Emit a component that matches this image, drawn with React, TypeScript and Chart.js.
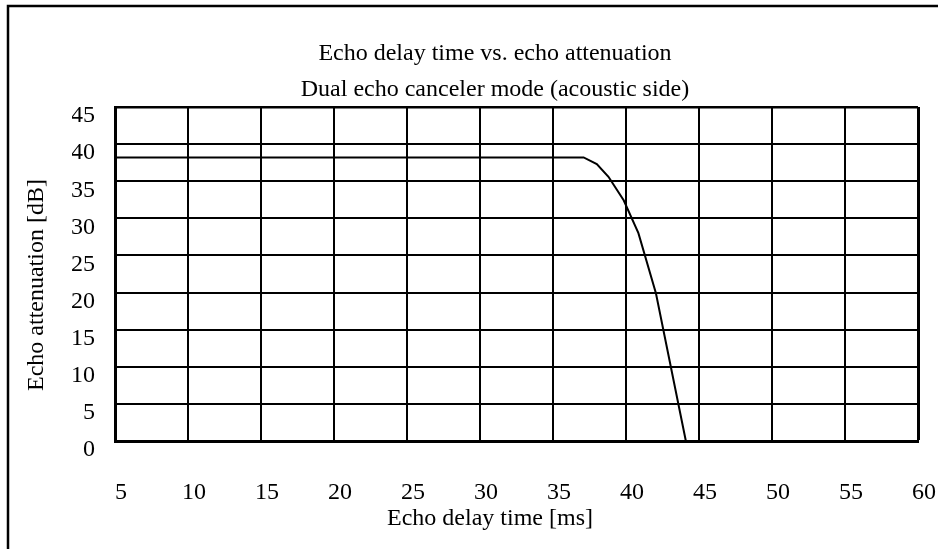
import React, { useEffect, useRef } from "react";
import { Chart, registerables } from "chart.js";

Chart.register(...registerables);

const titleText = "Echo delay time vs. echo attenuation";
const subtitleText = "Dual echo canceler mode (acoustic side)";
const xTitle = "Echo delay time [ms]";
const yTitle = "Echo attenuation [dB]";

const delayMs = [5, 37.1, 38.0, 38.8, 39.85, 40.85, 42.05, 44.1];
const attenuationDb = [38.2, 38.2, 37.3, 35.6, 32.4, 28.0, 19.9, 0];

const xMin = 5;
const xMax = 60;
const xStep = 5;
const yMin = 0;
const yMax = 45;
const yStep = 5;

const FONT = "'Liberation Serif', 'Times New Roman', serif";

const framePlugin = {
  id: "frame",
  beforeDraw(chart: any) {
    const ctx = chart.ctx;
    ctx.save();
    ctx.strokeStyle = "#000";
    ctx.lineWidth = 2.5;
    ctx.beginPath();
    ctx.moveTo(8, chart.height + 2);
    ctx.lineTo(8, 6);
    ctx.lineTo(chart.width + 2, 6);
    ctx.stroke();
    ctx.restore();
  },
};

const axisTitlePlugin = {
  id: "axisTitles",
  afterDraw(chart: any) {
    const ctx = chart.ctx;
    const area = chart.chartArea;
    ctx.save();
    ctx.fillStyle = "#000";
    ctx.font = `24px ${FONT}`;
    ctx.textAlign = "center";
    ctx.textBaseline = "middle";
    // x-axis title, under the tick labels
    ctx.fillText(xTitle, area.left + (area.right - area.left) * 0.467, 519);
    // y-axis title, rotated
    ctx.translate(37, area.top + (area.bottom - area.top) * 0.533);
    ctx.rotate(-Math.PI / 2);
    ctx.fillText(yTitle, 0, 0);
    ctx.restore();
  },
};

export default function App() {
  const ref = useRef<HTMLCanvasElement | null>(null);

  useEffect(() => {
    if (!ref.current) return;
    const chart = new Chart(ref.current, {
      type: "line",
      data: {
        datasets: [
          {
            data: delayMs.map((x, i) => ({ x, y: attenuationDb[i] })),
            borderColor: "#000",
            borderWidth: 2,
            pointRadius: 0,
            fill: false,
            tension: 0,
          },
        ],
      },
      plugins: [framePlugin, axisTitlePlugin],
      options: {
        animation: false,
        responsive: false,
        events: [],
        layout: { padding: { left: 72, right: 20, top: 0, bottom: 0 } },
        plugins: {
          legend: { display: false },
          tooltip: { enabled: false },
          title: {
            display: true,
            text: titleText,
            color: "#000",
            font: { family: FONT, size: 24, weight: "normal", lineHeight: 1.2 },
            padding: { top: 39.6, bottom: 0 },
          },
          subtitle: {
            display: true,
            text: subtitleText,
            color: "#000",
            font: { family: FONT, size: 24, weight: "normal", lineHeight: 1.2 },
            padding: { top: 7.2, bottom: 2.6 },
          },
        },
        scales: {
          x: {
            type: "linear",
            min: xMin,
            max: xMax,
            afterFit(scale: any) {
              scale.height = 108;
              scale.paddingLeft = 0;
              scale.paddingRight = 0;
            },
            ticks: {
              stepSize: xStep,
              color: "#000",
              padding: 37.6,
              labelOffset: 6,
              maxRotation: 0,
              font: { family: FONT, size: 24, lineHeight: 1.2 },
            },
            grid: {
              color: "#000",
              lineWidth: (c: any) => (c.tick && c.tick.value === xMax ? 3 : 2),
              drawTicks: false,
            },
            border: { color: "#000", width: 3 },
          },
          y: {
            type: "linear",
            min: yMin,
            max: yMax,
            afterFit(scale: any) {
              scale.width = 43;
              scale.paddingTop = 0;
              scale.paddingBottom = 0;
            },
            ticks: {
              stepSize: yStep,
              color: "#000",
              padding: 20,
              labelOffset: 9,
              font: { family: FONT, size: 24, lineHeight: 1.2 },
            },
            grid: {
              color: "#000",
              lineWidth: (c: any) => (c.tick && c.tick.value === yMax ? 2.5 : 2),
              drawTicks: false,
            },
            border: { color: "#000", width: 3 },
          },
        },
      } as any,
    });
    return () => chart.destroy();
  }, []);

  return (
    <div style={{ position: "absolute", left: 0, top: 0, width: 938, height: 549, background: "#fff" }}>
      <canvas ref={ref} width={938} height={549} style={{ display: "block" }} />
    </div>
  );
}
